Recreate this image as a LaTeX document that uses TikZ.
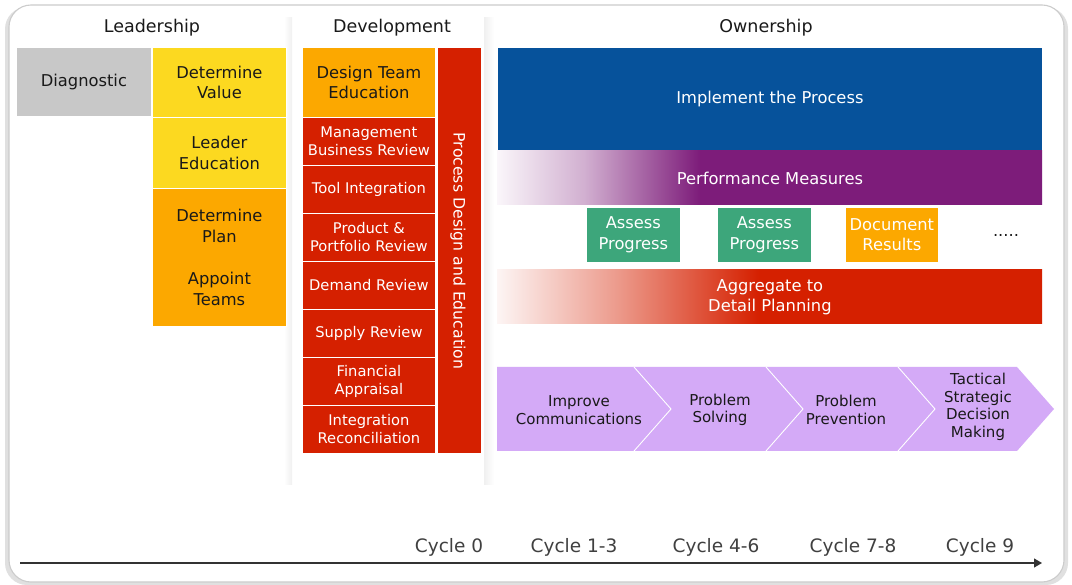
\documentclass[tikz,border=0pt]{standalone}
\usepackage{fontspec}
\setmainfont{DejaVu Sans}
\usetikzlibrary{arrows.meta}
\definecolor{cgray}{RGB}{200,200,200}
\definecolor{cyellow}{RGB}{252,217,32}
\definecolor{corange}{RGB}{252,168,0}
\definecolor{cred}{RGB}{213,32,0}
\definecolor{cblue}{RGB}{6,82,155}
\definecolor{cpurple}{RGB}{125,28,122}
\definecolor{cgreen}{RGB}{61,166,123}
\definecolor{clilac}{RGB}{212,170,247}
\definecolor{ctext}{RGB}{25,25,25}
\definecolor{cpurplelt}{RGB}{250,246,250}
\definecolor{credlt}{RGB}{253,245,244}
\pgfdeclarehorizontalshading{purpfade}{100bp}{color(0bp)=(cpurplelt); color(25bp)=(cpurplelt); color(33bp)=(cpurple!35); color(43.6bp)=(cpurple); color(100bp)=(cpurple)}
\pgfdeclarehorizontalshading{redfade}{100bp}{color(0bp)=(credlt); color(25bp)=(credlt); color(36bp)=(cred!45); color(49bp)=(cred); color(100bp)=(cred)}
\begin{document}
\begin{tikzpicture}[x=1pt,y=-1pt,
  hdr/.style={font=\fontsize{17.5}{20}\selectfont, text=ctext, inner sep=0pt},
  box/.style={draw=white, line width=0.8pt, inner sep=0pt, anchor=north west, align=center},
  dk/.style={text=ctext, font=\fontsize{16.3}{20.5}\selectfont},
  wt/.style={text=white, font=\fontsize{16.3}{20.5}\selectfont},
  rd/.style={box, fill=cred, text=white, font=\fontsize{14.7}{18}\selectfont, minimum width=133pt, minimum height=48pt},
  chev/.style={text=ctext, align=center, inner sep=0pt, font=\fontsize{15}{17.5}\selectfont},
  cyc/.style={text=black!75, inner sep=0pt, font=\fontsize{18.5}{20}\selectfont}
]
\useasboundingbox (0,0) rectangle (1072,585);
\fill[white] (0,0) rectangle (1072,585);
% frame with shadow
\fill[black!12, rounded corners=22pt] (5,7) rectangle (1068,585);
\draw[black!20, line width=1.1pt, fill=white, rounded corners=22pt] (9,5) rectangle (1064,582);
% panel shadows
\shade[left color=white, right color=black!6] (284,18) rectangle (292,485);
\shade[left color=black!6, right color=white] (484,18) rectangle (494,485);
% headers
\node[hdr] (hL) at (152,28) {Leadership};
\node[hdr] (hD) at (392,28) {Development};
\node[hdr] (hO) at (766,28) {Ownership};
% leadership
\node[box, dk, fill=cgray, minimum width=135pt, minimum height=69pt] (diag) at (16,47) {Diagnostic};
\node[box, dk, fill=cyellow, minimum width=134pt, minimum height=70pt] (dval) at (152,47) {Determine\\Value};
\node[box, dk, fill=cyellow, minimum width=134pt, minimum height=71pt] (ledu) at (152,117) {Leader\\Education};
\node[box, dk, fill=corange, minimum width=134pt, minimum height=138pt] (plan) at (152,188) {Determine\\Plan\\[22pt]Appoint\\Teams};
% development
\node[box, dk, fill=corange, minimum width=133pt, minimum height=70pt] (dte) at (302,47) {Design Team\\Education};
\node[rd] (mbr) at (302,117) {Management\\Business Review};
\node[rd] (ti) at (302,165) {Tool Integration};
\node[rd] (ppr) at (302,213) {Product \&\\Portfolio Review};
\node[rd] (dr) at (302,261) {Demand Review};
\node[rd] (sr) at (302,309) {Supply Review};
\node[rd] (fa) at (302,357) {Financial\\Appraisal};
\node[rd] (ir) at (302,405) {Integration\\Reconciliation};
\node[box, fill=cred, minimum width=44pt, minimum height=406pt] (pdbar) at (437,47) {};
\node[wt, inner sep=0pt, rotate=-90, font=\fontsize{15.7}{18}\selectfont] (pde) at (458,251) {Process Design and Education};
% ownership
\node[box, wt, fill=cblue, minimum width=545pt, minimum height=103pt] (impl) at (497,47) {Implement the Process};
\shade[shading=purpfade] (497,151) rectangle (1042,205);
\node[box, wt, draw=none, minimum width=545pt, minimum height=54pt] (perf) at (497,151) {Performance Measures};
\node[box, wt, fill=cgreen, minimum width=94pt, minimum height=55pt] (ap1) at (586,207) {Assess\\Progress};
\node[box, wt, fill=cgreen, minimum width=94pt, minimum height=55pt] (ap2) at (717,207) {Assess\\Progress};
\node[box, wt, fill=corange, minimum width=93pt, minimum height=55pt] (doc) at (845,207) {Document\\Results};
\node[dk, inner sep=0pt] (dots) at (1006,235) {.....};
\shade[shading=redfade] (497,270) rectangle (1042,324);
\node[box, wt, draw=none, minimum width=545pt, minimum height=54pt] (agg) at (497,270) {Aggregate to\\Detail Planning};
% chevrons
\fill[clilac] (497,367) -- (1017,367) -- (1054,409) -- (1017,451) -- (497,451) -- cycle;
\draw[white, line width=0.9pt] (634,367) -- (671,409) -- (634,451);
\draw[white, line width=0.9pt] (766,367) -- (803,409) -- (766,451);
\draw[white, line width=0.9pt] (898,367) -- (935,409) -- (898,451);
\node[chev] (c1) at (579,410) {Improve\\Communications};
\node[chev] (c2) at (720,410) {Problem\\Solving};
\node[chev] (c3) at (846,410) {Problem\\Prevention};
\node[chev] (c4) at (978,407) {Tactical\\Strategic\\Decision\\Making};
% axis
\coordinate (axs) at (20,563);
\coordinate (axe) at (1042,563);
\draw[black!80, line width=1.2pt, -{Triangle[length=8pt,width=9pt]}] (axs) -- (axe);
\node[cyc] (cy0) at (449,547) {Cycle 0};
\node[cyc] (cy1) at (574,547) {Cycle 1-3};
\node[cyc] (cy2) at (716,547) {Cycle 4-6};
\node[cyc] (cy3) at (853,547) {Cycle 7-8};
\node[cyc] (cy4) at (980,547) {Cycle 9};
\end{tikzpicture}
\end{document}
